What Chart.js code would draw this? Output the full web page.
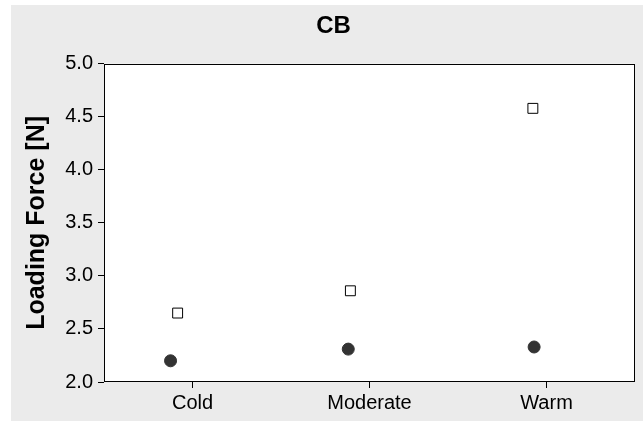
<!DOCTYPE html>
<html>
<head>
<meta charset="utf-8">
<script src="https://cdn.jsdelivr.net/npm/chart.js@4.4.0/dist/chart.umd.js"></script>
<style>
  html, body { margin: 0; padding: 0; background: #ffffff; }
  #wrap { width: 643px; height: 421px; }
</style>
</head>
<body>
<div id="wrap"><canvas id="forceChart" width="643" height="421"></canvas></div>
<script>
// Chart data
const categories = ['Cold', 'Moderate', 'Warm'];
const squareValues = [2.65, 2.86, 4.58];
const circleValues = [2.20, 2.31, 2.33];
// small horizontal dodge of each marker, in category units
const squareJitter = [-0.084, -0.108, -0.077];
const circleJitter = [-0.124, -0.12, -0.07];
const yTicks = [2.0, 2.5, 3.0, 3.5, 4.0, 4.5, 5.0];

const FONT = "'Liberation Sans', Arial, sans-serif";

function toPoints(values, jitter) {
    return values.map((v, i) => ({ x: i + jitter[i], y: v }));
}

// grey panel + white plot area with black frame
const panelPlugin = {
    id: 'panel',
    beforeDraw(chart) {
        const { ctx, chartArea: a } = chart;
        ctx.save();
        ctx.fillStyle = '#ebebeb';
        ctx.fillRect(11, 5, 632, 416);
        ctx.fillStyle = '#ffffff';
        ctx.fillRect(a.left, a.top, a.right - a.left, a.bottom - a.top);
        ctx.restore();
    },
    beforeDatasetsDraw(chart) {
        const { ctx, chartArea: a } = chart;
        ctx.save();
        ctx.strokeStyle = '#000000';
        ctx.lineWidth = 1;
        const l = Math.round(a.left) + 0.5, t = Math.round(a.top) + 0.5;
        const r = Math.round(a.right) - 0.5, b = Math.round(a.bottom) - 0.5;
        ctx.strokeRect(l, t, r - l, b - t);
        ctx.restore();
    }
};

new Chart(document.getElementById('forceChart'), {
    type: 'scatter',
    data: {
        datasets: [{
            data: toPoints(squareValues, squareJitter),
            pointStyle: 'rect',
            pointRadius: 7,
            backgroundColor: '#ffffff',
            borderColor: '#000000',
            borderWidth: 1
        }, {
            data: toPoints(circleValues, circleJitter),
            pointStyle: 'circle',
            pointRadius: 6,
            backgroundColor: '#333333',
            borderColor: '#333333',
            borderWidth: 1
        }]
    },
    options: {
        responsive: false,
        animation: false,
        layout: {
            padding: { left: 28, right: 4, top: 0, bottom: 0 }
        },
        plugins: {
            legend: { display: false },
            tooltip: { enabled: false },
            title: {
                display: true,
                text: 'CB',
                color: '#000000',
                font: { family: FONT, size: 24, weight: 'bold', lineHeight: 1.2 },
                padding: { top: 12, bottom: 23 }
            }
        },
        scales: {
            x: {
                type: 'linear',
                min: -0.5,
                max: 2.5,
                afterBuildTicks: (scale) => {
                    scale.ticks = categories.map((c, i) => ({ value: i }));
                },
                afterFit: (scale) => { scale.height = 39; },
                ticks: {
                    color: '#000000',
                    font: { family: FONT, size: 20 },
                    padding: 3,
                    maxRotation: 0,
                    callback: (v) => categories[v]
                },
                grid: {
                    drawOnChartArea: false,
                    drawTicks: true,
                    tickLength: 6,
                    color: '#000000'
                },
                border: { display: false }
            },
            y: {
                min: 2,
                max: 5,
                afterBuildTicks: (scale) => {
                    scale.ticks = yTicks.map(v => ({ value: v }));
                },
                afterFit: (scale) => { scale.width = 76; },
                ticks: {
                    color: '#000000',
                    font: { family: FONT, size: 20 },
                    padding: 5,
                    callback: (v) => Number(v).toFixed(1)
                },
                grid: {
                    drawOnChartArea: false,
                    drawTicks: true,
                    tickLength: 6,
                    color: '#000000'
                },
                border: { display: false },
                title: {
                    display: true,
                    text: 'Loading Force [N]',
                    color: '#000000',
                    font: { family: FONT, size: 25, weight: 'bold', lineHeight: 0.7 },
                    padding: 0
                }
            }
        }
    },
    plugins: [panelPlugin]
});
</script>
</body>
</html>
